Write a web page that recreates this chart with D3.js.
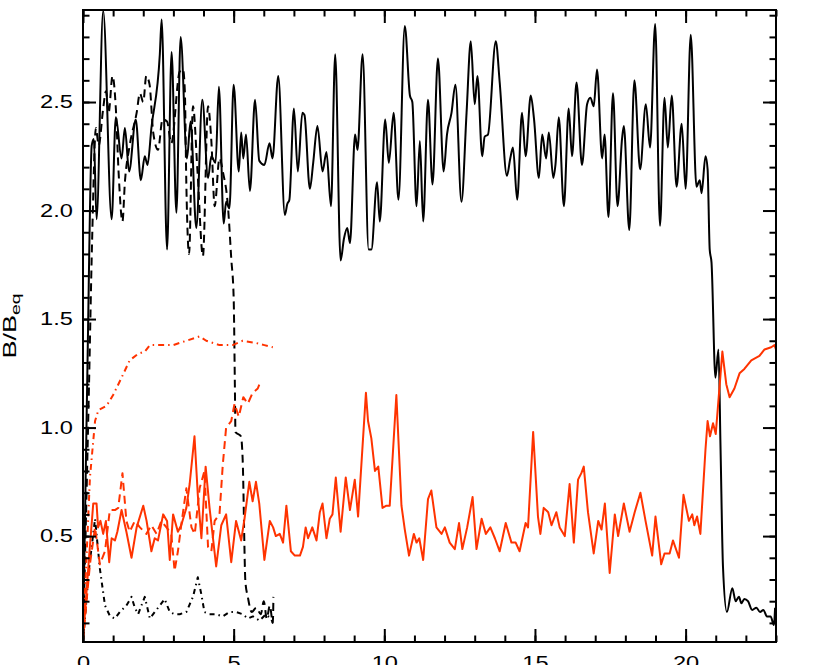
<!DOCTYPE html>
<html>
<head>
<meta charset="utf-8">
<script src="https://cdn.jsdelivr.net/npm/d3@7"></script>
<style>
body { margin: 0; background: #fff; }
text { font-family: "Liberation Sans", Arial, sans-serif; fill: #000; }
</style>
</head>
<body>
<script>
// tick labels
var xMajor = [0, 5, 10, 15, 20];
var yMajor = [0.5, 1.0, 1.5, 2.0, 2.5];

// black solid
var blackSolidX = [0, 0.15, 0.29, 0.36, 0.45, 0.67, 0.95, 1.09, 1.28, 1.39, 1.53, 1.75, 1.92, 2.05, 2.14, 2.27, 2.55, 2.61, 2.79, 2.94,
    3.10, 3.24, 3.45, 3.57, 3.76, 3.96, 4.15, 4.26, 4.40, 4.51, 4.67, 4.75, 4.86, 5.00, 5.17, 5.25, 5.32, 5.41, 5.54, 5.71,
    5.85, 6.02, 6.19, 6.29, 6.48, 6.70, 6.78, 6.85, 7.00, 7.13, 7.28, 7.35, 7.53, 7.64, 7.78, 7.95, 8.08, 8.23, 8.37, 8.55,
    8.66, 8.77, 8.86, 9.03, 9.11, 9.28, 9.48, 9.57, 9.76, 9.85, 10.03, 10.15, 10.31, 10.47, 10.68, 10.85, 10.93, 11.07, 11.18, 11.29,
    11.45, 11.60, 11.78, 11.97, 12.08, 12.23, 12.36, 12.56, 12.73, 12.87, 13.00, 13.09, 13.25, 13.33, 13.44, 13.70, 13.83, 14.07, 14.18, 14.27,
    14.41, 14.57, 14.69, 14.86, 14.97, 15.13, 15.24, 15.37, 15.46, 15.61, 15.68, 15.79, 15.96, 16.12, 16.23, 16.38, 16.56, 16.73, 16.84, 16.95,
    17.06, 17.23, 17.31, 17.44, 17.59, 17.74, 17.89, 17.95, 18.13, 18.30, 18.49, 18.68, 18.82, 18.99, 19.15, 19.30, 19.41, 19.54, 19.70, 19.87,
    20.00, 20.17, 20.36, 20.47, 20.53, 20.66, 20.73, 20.80, 20.86, 20.99, 21.09, 21.16, 21.24, 21.37, 21.55, 21.66, 21.77, 21.85, 21.95, 22.07,
    22.21, 22.35, 22.47, 22.58, 22.70, 22.82, 22.93, 22.97];
var blackSolidY = [0.01, 1.3, 2.3, 2.33, 1.96, 2.92, 1.96, 2.43, 2.24, 2.38, 2.18, 2.42, 2.14, 2.25, 2.21, 2.38, 2.72, 2.88, 1.82, 2.73,
    1.99, 2.80, 2.24, 2.41, 1.92, 2.51, 2.15, 2.25, 2.22, 2.57, 1.94, 2.04, 2.01, 2.58, 2.18, 2.36, 2.24, 2.35, 2.09, 2.51,
    2.23, 2.21, 2.31, 2.24, 2.62, 1.98, 2.03, 2.05, 2.47, 2.18, 2.45, 2.44, 2.10, 2.22, 2.39, 2.18, 2.27, 2.02, 2.72, 1.77,
    1.87, 1.92, 1.85, 2.35, 2.28, 2.72, 1.82, 1.82, 2.13, 1.95, 2.42, 2.22, 2.45, 2.05, 2.85, 2.53, 2.50, 2.02, 2.32, 1.95,
    2.51, 2.12, 2.70, 2.18, 2.35, 2.45, 2.58, 2.04, 2.45, 2.78, 2.49, 2.62, 2.25, 2.34, 2.35, 2.78, 2.59, 2.16, 2.24, 2.29,
    2.05, 2.45, 2.25, 2.53, 2.42, 2.15, 2.35, 2.24, 2.36, 2.15, 2.21, 2.43, 2.02, 2.47, 2.25, 2.59, 2.21, 2.49, 2.52, 2.48,
    2.65, 2.24, 2.35, 1.97, 2.54, 2.02, 2.33, 2.39, 1.91, 2.60, 2.19, 2.49, 2.29, 2.86, 1.93, 2.52, 2.29, 2.53, 2.11, 2.40,
    2.10, 2.81, 2.11, 2.14, 2.08, 2.25, 2.19, 1.82, 1.76, 1.23, 1.36, 0.90, 0.36, 0.15, 0.26, 0.20, 0.22, 0.19, 0.21, 0.20,
    0.16, 0.17, 0.15, 0.16, 0.13, 0.13, 0.09, 0.17];

// black dashed
var blackDashX = [0, 0.2, 0.3, 0.43, 0.52, 0.67, 0.76, 0.85, 0.98, 1.09, 1.18, 1.31, 1.39, 1.55, 1.78, 1.89, 2.00, 2.10, 2.21, 2.33,
    2.49, 2.64, 2.79, 2.93, 3.21, 3.32, 3.38, 3.43, 3.52, 3.65, 3.80, 3.98, 4.15, 4.26, 4.37, 4.53, 4.64, 4.81, 4.92, 5.00,
    5.04, 5.06, 5.24, 5.30, 5.39, 5.47, 5.60, 5.75, 5.90, 6.00, 6.10, 6.20, 6.30, 6.32];
var blackDashY = [0.01, 1.2, 1.85, 2.38, 2.30, 2.47, 2.55, 2.45, 2.62, 2.47, 2.18, 1.95, 2.13, 2.30, 2.45, 2.54, 2.50, 2.62, 2.58, 2.36,
    2.28, 2.42, 2.41, 2.31, 2.64, 2.65, 2.55, 2.12, 1.80, 2.48, 2.18, 1.79, 2.48, 2.32, 2.02, 2.24, 2.18, 2.02, 1.78, 1.60,
    1.20, 0.98, 0.96, 0.85, 0.29, 0.22, 0.15, 0.17, 0.14, 0.20, 0.12, 0.18, 0.10, 0.22];

// black dash-dot
var blackDotX = [0, 0.2, 0.40, 0.56, 0.73, 0.90, 1.06, 1.22, 1.44, 1.61, 1.72, 1.83, 2.05, 2.22, 2.38, 2.55, 2.71, 2.88, 3.04, 3.21,
    3.43, 3.65, 3.81, 3.93, 4.03, 4.20, 4.42, 4.64, 4.86, 5.08, 5.30, 5.47, 5.64, 5.86, 6.07, 6.24, 6.30];
var blackDotY = [0.01, 0.35, 0.58, 0.35, 0.18, 0.13, 0.12, 0.15, 0.18, 0.22, 0.17, 0.14, 0.22, 0.12, 0.15, 0.18, 0.21, 0.15, 0.14, 0.14,
    0.15, 0.22, 0.31, 0.23, 0.15, 0.14, 0.14, 0.13, 0.15, 0.15, 0.14, 0.12, 0.13, 0.11, 0.14, 0.12, 0.10];

// red solid
var redSolidX = [0, 0.20, 0.34, 0.45, 0.50, 0.58, 0.67, 0.76, 0.87, 0.95, 1.06, 1.14, 1.28, 1.44, 1.61, 1.78, 2.00, 2.11, 2.27, 2.38,
    2.49, 2.66, 2.79, 2.88, 2.99, 3.15, 3.26, 3.43, 3.54, 3.70, 3.81, 3.93, 4.07, 4.20, 4.42, 4.59, 4.75, 4.92, 5.08, 5.25,
    5.36, 5.52, 5.63, 5.74, 5.85, 6.02, 6.20, 6.31, 6.40, 6.53, 6.64, 6.75, 6.90, 7.03, 7.20, 7.30, 7.39, 7.47, 7.61, 7.75,
    7.86, 7.95, 8.08, 8.19, 8.28, 8.39, 8.55, 8.72, 8.86, 9.02, 9.13, 9.39, 9.46, 9.57, 9.69, 9.80, 9.94, 10.07, 10.18, 10.40,
    10.57, 10.68, 10.82, 10.98, 11.07, 11.16, 11.29, 11.45, 11.56, 11.73, 11.90, 12.01, 12.17, 12.34, 12.48, 12.59, 12.75, 12.93, 13.06, 13.23,
    13.37, 13.52, 13.67, 13.83, 14.03, 14.22, 14.36, 14.49, 14.69, 14.77, 14.94, 15.10, 15.18, 15.29, 15.44, 15.55, 15.71, 15.82, 15.99, 16.15,
    16.29, 16.43, 16.54, 16.62, 16.76, 16.95, 17.10, 17.21, 17.32, 17.48, 17.65, 17.76, 17.95, 18.14, 18.31, 18.50, 18.67, 18.89, 19.00, 19.19,
    19.30, 19.47, 19.58, 19.78, 19.93, 20.11, 20.22, 20.29, 20.38, 20.49, 20.66, 20.73, 20.81, 20.91, 21.00, 21.22, 21.35, 21.46, 21.62, 21.79,
    21.95, 22.18, 22.45, 22.62, 22.84, 22.95, 23.00];
var redSolidY = [0.02, 0.40, 0.65, 0.65, 0.54, 0.57, 0.51, 0.57, 0.38, 0.49, 0.48, 0.52, 0.62, 0.52, 0.40, 0.54, 0.64, 0.57, 0.43, 0.49,
    0.48, 0.60, 0.57, 0.39, 0.60, 0.52, 0.55, 0.63, 0.74, 0.96, 0.69, 0.49, 0.82, 0.63, 0.36, 0.55, 0.60, 0.38, 0.57, 0.48,
    0.58, 0.75, 0.66, 0.75, 0.65, 0.39, 0.57, 0.54, 0.50, 0.51, 0.47, 0.64, 0.43, 0.41, 0.41, 0.45, 0.54, 0.49, 0.54, 0.48,
    0.61, 0.65, 0.49, 0.58, 0.60, 0.77, 0.52, 0.77, 0.62, 0.76, 0.59, 1.16, 1.03, 0.95, 0.80, 0.82, 0.63, 0.64, 0.64, 1.15,
    0.64, 0.53, 0.41, 0.51, 0.47, 0.49, 0.39, 0.67, 0.71, 0.54, 0.51, 0.54, 0.47, 0.44, 0.56, 0.44, 0.54, 0.68, 0.44, 0.58,
    0.51, 0.54, 0.49, 0.43, 0.56, 0.47, 0.47, 0.43, 0.56, 0.54, 0.98, 0.59, 0.51, 0.63, 0.61, 0.55, 0.61, 0.54, 0.50, 0.74,
    0.47, 0.76, 0.79, 0.82, 0.61, 0.42, 0.57, 0.53, 0.65, 0.33, 0.60, 0.50, 0.65, 0.52, 0.61, 0.70, 0.57, 0.41, 0.59, 0.37,
    0.42, 0.42, 0.48, 0.40, 0.69, 0.57, 0.60, 0.55, 0.59, 0.51, 0.90, 1.03, 0.96, 1.02, 0.97, 1.35, 1.20, 1.14, 1.18, 1.25,
    1.27, 1.31, 1.33, 1.36, 1.37, 1.38, 1.36];

// red dashed
var redDashX = [0, 0.23, 0.40, 0.56, 0.73, 0.89, 1.06, 1.17, 1.31, 1.44, 1.55, 1.72, 1.89, 2.10, 2.27, 2.44, 2.60, 2.77, 2.93, 3.04,
    3.15, 3.26, 3.43, 3.60, 3.71, 3.87, 4.03, 4.15, 4.26, 4.37, 4.53, 4.64, 4.75, 4.92, 5.03, 5.17, 5.32, 5.47, 5.63, 5.80, 5.91];
var redDashY = [0.02, 0.37, 0.54, 0.37, 0.43, 0.62, 0.62, 0.63, 0.79, 0.57, 0.52, 0.57, 0.54, 0.51, 0.55, 0.51, 0.57, 0.54, 0.51, 0.34,
    0.43, 0.55, 0.72, 0.54, 0.51, 0.72, 0.80, 0.45, 0.43, 0.57, 0.60, 0.83, 1.00, 1.03, 1.11, 1.05, 1.14, 1.11, 1.16, 1.18, 1.22];

// red dash-dot
var redDotX = [0, 0.23, 0.40, 0.51, 0.78, 1.00, 1.28, 1.55, 1.83, 2.05, 2.22, 2.55, 2.99, 3.43, 3.87, 4.09, 4.53, 4.97, 5.30, 5.74, 6.02, 6.30];
var redDotY = [0.02, 0.77, 1.03, 1.08, 1.10, 1.15, 1.23, 1.31, 1.34, 1.35, 1.38, 1.38, 1.38, 1.40, 1.42, 1.40, 1.38, 1.38, 1.40, 1.39, 1.38, 1.37];

var red = "#ff3300";

// set up canvas
var margin = {top: 10, right: 54, bottom: 23, left: 83},
    width = 830 - margin.left - margin.right,
    height = 665 - margin.top - margin.bottom;

var x = d3.scaleLinear().domain([0, 23]).range([0, width]),
    y = d3.scaleLinear().domain([0.012, 2.924]).range([height, 0]);

var svg = d3.select("body")
    .append("svg")
    .attr("width", width + margin.left + margin.right)
    .attr("height", height + margin.top + margin.bottom)
    .append("g")
    .attr("transform", "translate(" + margin.left + "," + margin.top + ")");

svg.append("clipPath")
    .attr("id", "plotClip")
    .append("rect")
    .attr("width", width)
    .attr("height", height);

var series = [
    {xs: blackSolidX, ys: blackSolidY, color: "#000", dash: null, curve: d3.curveMonotoneX},
    {xs: blackDashX, ys: blackDashY, color: "#000", dash: "8,5", curve: d3.curveMonotoneX},
    {xs: blackDotX, ys: blackDotY, color: "#000", dash: "5,4,1.5,4", curve: d3.curveLinear},
    {xs: redSolidX, ys: redSolidY, color: red, dash: null, curve: d3.curveLinear},
    {xs: redDashX, ys: redDashY, color: red, dash: "8,5", curve: d3.curveLinear},
    {xs: redDotX, ys: redDotY, color: red, dash: "6,4,1.5,4", curve: d3.curveLinear}
];

var lines = svg.append("g").attr("clip-path", "url(#plotClip)");

series.forEach(function(s) {
    var line = d3.line()
        .x(function(d) { return x(s.xs[d]); })
        .y(function(d) { return y(s.ys[d]); })
        .curve(s.curve);
    lines.append("path")
        .datum(d3.range(s.xs.length))
        .attr("fill", "none")
        .attr("stroke", s.color)
        .attr("stroke-width", 2)
        .attr("stroke-dasharray", s.dash)
        .attr("stroke-linejoin", "round")
        .attr("d", line);
});

// axes, ticks pointing inward on all four sides
var xMinor = d3.range(0, 24, 1),
    yMinor = d3.range(1, 30).map(function(d) { return d / 10; });

function addAxis(axis, tx, ty) {
    var g = svg.append("g")
        .attr("transform", "translate(" + tx + "," + ty + ")")
        .call(axis);
    g.select(".domain").remove();
    g.selectAll("line").attr("stroke", "#000").attr("stroke-width", 2);
    return g;
}

addAxis(d3.axisBottom(x).tickValues(xMinor).tickSize(-6.5).tickFormat(""), 0, height);
addAxis(d3.axisTop(x).tickValues(xMinor).tickSize(-6.5).tickFormat(""), 0, 0);
addAxis(d3.axisTop(x).tickValues(xMajor).tickSize(-13).tickFormat(""), 0, 0);
addAxis(d3.axisLeft(y).tickValues(yMinor).tickSize(-6.5).tickFormat(""), 0, 0);
addAxis(d3.axisRight(y).tickValues(yMinor).tickSize(-6.5).tickFormat(""), width, 0);
addAxis(d3.axisRight(y).tickValues(yMajor).tickSize(-13).tickFormat(""), width, 0);

var xAxis = addAxis(d3.axisBottom(x).tickValues(xMajor).tickSize(-13).tickPadding(15), 0, height);
xAxis.selectAll("text")
    .attr("font-size", "17.5px")
    .attr("transform", "scale(1.35,1)");

var yAxis = addAxis(d3.axisLeft(y).tickValues(yMajor).tickSize(-13).tickPadding(10)
    .tickFormat(d3.format(".1f")), 0, 0);
yAxis.selectAll("text")
    .attr("font-size", "17.5px")
    .attr("x", -7.5)
    .attr("transform", "scale(1.35,1)");

// frame
svg.append("rect")
    .attr("width", width)
    .attr("height", height)
    .attr("fill", "none")
    .attr("stroke", "#000")
    .attr("stroke-width", 2);

// y title B/B_eq
var yTitle = svg.append("text")
    .attr("transform", "translate(" + (16 - margin.left) + "," + (height / 2) + ") rotate(-90) scale(1.55,1)")
    .attr("text-anchor", "middle")
    .attr("font-size", "17.5px");
yTitle.append("tspan").text("B/B");
yTitle.append("tspan")
    .attr("font-size", "12.5px")
    .attr("dy", "0.3em")
    .text("eq");
</script>
</body>
</html>
